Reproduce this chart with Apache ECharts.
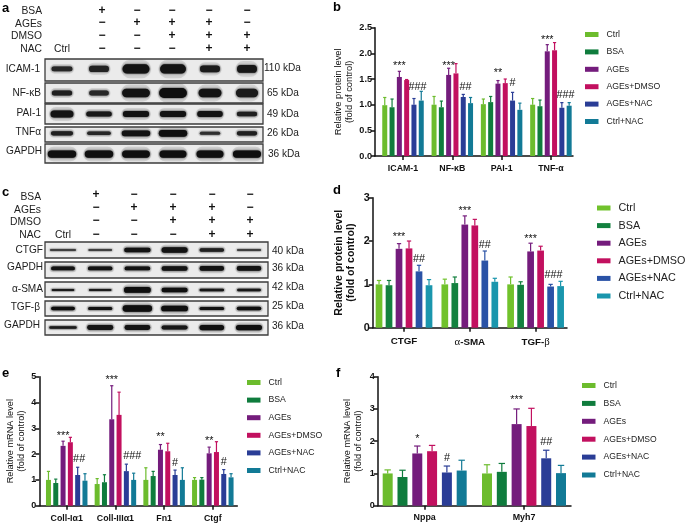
<!DOCTYPE html>
<html><head><meta charset="utf-8">
<style>html,body{margin:0;padding:0;background:#fff}#c{width:685px;height:523px}</style>
<script src="https://cdn.jsdelivr.net/npm/echarts@6/dist/echarts.min.js"></script>
</head><body><div id="c"></div>
<script>
// ---------- data: bar panels ----------
const groups = ['Ctrl','BSA','AGEs','AGEs+DMSO','AGEs+NAC','Ctrl+NAC'];

const catsB = ['ICAM-1','NF-κB','PAI-1','TNF-α'];
const meansB = [[0.99,0.95,1.54,1.48,1.00,1.08],[1.00,0.95,1.58,1.61,1.15,1.03],[1.01,1.05,1.41,1.42,1.08,0.90],[1.00,0.97,2.04,2.06,0.94,0.98]];
const topsB  = [[1.14,1.11,1.65,1.49,1.12,1.26],[1.16,1.07,1.71,1.80,1.20,1.14],[1.11,1.16,1.47,1.50,1.24,1.03],[1.12,1.09,2.17,2.21,1.04,1.04]];
const sigB = [[0,2,1.80,'***'],[0,4.5,1.34,'###'],[1,2,1.80,'***'],[1,4.3,1.34,'##'],[2,2,1.66,'**'],[2,4,1.43,'#'],[3,2,2.30,'***'],[3,4.5,1.19,'###']];

const catsD = ['CTGF','α-SMA','TGF-β'];
const meansD = [[1.00,0.98,1.82,1.83,1.30,0.98],[1.00,1.03,2.38,2.36,1.55,1.06],[1.00,0.99,1.76,1.78,0.95,0.96]];
const topsD  = [[1.09,1.09,1.94,2.00,1.44,1.11],[1.12,1.17,2.58,2.50,1.77,1.14],[1.17,1.06,1.95,1.88,1.00,1.07]];
const sigD = [[0,2,2.14,'***'],[0,4,1.59,'##'],[1,2,2.75,'***'],[1,4,1.90,'##'],[2,2,2.09,'***'],[2,4.3,1.21,'###']];

const catsE = ['Coll-Iα1','Coll-IIIα1','Fn1','Ctgf'];
const meansE = [[1.00,0.88,2.32,2.46,1.19,0.97],[0.84,0.91,3.35,3.52,1.34,1.00],[1.00,1.15,2.17,2.11,1.19,1.00],[1.00,1.01,2.03,2.08,1.23,1.10]];
const topsE  = [[1.33,1.03,2.50,2.65,1.49,1.24],[1.05,1.20,4.65,4.40,1.61,1.26],[1.47,1.33,2.37,2.42,1.38,1.47],[1.09,1.09,2.27,2.48,1.40,1.24]];
const sigE = [[0,2,2.79,'***'],[0,4.2,1.81,'##'],[1,2,4.96,'***'],[1,4.8,1.94,'###'],[2,2,2.73,'**'],[2,4,1.64,'#'],[3,2,2.58,'**'],[3,4,1.68,'#']];

const catsF = ['Nppa','Myh7'];
const meansF = [[1.00,0.89,1.62,1.69,1.03,1.09],[1.00,1.05,2.53,2.47,1.47,1.01]];
const topsF  = [[1.11,1.10,1.85,1.87,1.23,1.41],[1.27,1.31,3.00,3.02,1.72,1.25]];
const sigF = [[0,2,2.14,'*'],[0,4,1.47,'#'],[1,2,3.33,'***'],[1,4,1.96,'##']];

// ---------- data: blots (band width, band thickness, band darkness per lane) ----------
const blotA = [
 {name:'ICAM-1', kda:'110 kDa', mid:.45, w:[.65,.62,.81,.78,.62,.62], t:[.22,.28,.42,.42,.3,.36], d:[.7,.75,.95,.95,.85,.9]},
 {name:'NF-κB',  kda:'65 kDa',  mid:.5,  w:[.63,.61,.83,.83,.7,.68],  t:[.25,.25,.42,.5,.42,.42],  d:[.8,.7,.95,1,.95,.85]},
 {name:'PAI-1',  kda:'49 kDa',  mid:.5,  w:[.7,.77,.79,.79,.77,.63],  t:[.35,.25,.3,.3,.3,.22],d:[.95,.9,.95,.95,.95,.8]},
 {name:'TNFα',   kda:'26 kDa',  mid:.42, w:[.68,.72,.85,.85,.63,.63], t:[.28,.24,.38,.45,.2,.28], d:[.8,.7,.95,1,.6,.8]},
 {name:'GAPDH',  kda:'36 kDa',  mid:.53, w:[.85,.85,.83,.81,.81,.84], t:[.38,.38,.38,.38,.38,.38],d:[1,1,1,1,1,1]}
];
const blotC = [
 {name:'CTGF',  kda:'40 kDa', mid:.5,  w:[.78,.72,.79,.78,.74,.73], t:[.12,.12,.28,.33,.22,.12], d:[.4,.4,.95,.95,.8,.4]},
 {name:'GAPDH', kda:'36 kDa', mid:.4,  w:[.72,.74,.77,.78,.74,.74], t:[.24,.24,.24,.28,.3,.3], d:[.95,.95,.95,.95,.95,.95]},
 {name:'α-SMA', kda:'42 kDa', mid:.53, w:[.69,.69,.8,.78,.74,.72],  t:[.14,.14,.38,.3,.17,.17],  d:[.85,.85,1,1,.9,.9]},
 {name:'TGF-β', kda:'25 kDa', mid:.5,  w:[.72,.73,.87,.8,.74,.74],  t:[.24,.2,.42,.38,.2,.24],   d:[1,.95,1,1,.95,1]},
 {name:'GAPDH', kda:'36 kDa', mid:.5,  w:[.82,.78,.77,.78,.74,.78], t:[.17,.32,.32,.28,.35,.35],   d:[.85,.95,.95,.9,1,1]}
];
const treatRows = ['BSA','AGEs','DMSO','NAC'];
const treatA = [['+','−','−','−','−'],['−','+','+','+','−'],['−','−','+','+','+'],['−','−','−','+','+']];

// ---------- layout ----------
const FONT = '"Liberation Sans", Arial, sans-serif';
const paletteA = ['#6cbc2d','#0f7c3d','#741c7c','#c2105f','#2a3d96','#127a96'];
const paletteD = ['#71c22c','#13813f','#741c7c','#c2105f','#2a52a6','#1a96ad'];
const panels = [
 {cats:catsB,means:meansB,tops:topsB,sig:sigB,pal:paletteA,left:375,right:573,top:27.7,bottom:156,xMin:-.568,xMax:3.448,yMax:2.5,yStep:.5,fix:1,bw:5,pitch:7.3,
  title:'Relative protein level\n(fold of control)',tFont:9.4,tBold:'normal',gap:16,tick:9.1,cat:8.8,catM:8,leg:{left:585,top:30,font:8.7,gap:8.4}},
 {cats:catsD,means:meansD,tops:topsD,sig:sigD,pal:paletteD,left:372.7,right:567,top:197.7,bottom:327.7,xMin:-.476,xMax:2.477,yMax:3,yStep:1,fix:0,bw:6.7,pitch:10,
  title:'Relative protein level\n(fold of control)',tFont:10.6,tBold:'bold',gap:15,tick:10.8,cat:9.8,catM:9,leg:{left:597,top:202.5,font:10.8,gap:6.6},rich:true},
 {cats:catsE,means:meansE,tops:topsE,sig:sigE,pal:paletteA,left:39.3,right:237.3,top:376.7,bottom:505.7,xMin:-.563,xMax:3.503,yMax:5,yStep:1,fix:0,bw:5,pitch:7.3,
  title:'Relative mRNA level\n(fold of control)',tFont:9.2,tBold:'normal',gap:7,tick:9,cat:8.8,catM:8,leg:{left:247,top:378,font:8.7,gap:8.6}},
 {cats:catsF,means:meansF,tops:topsF,sig:sigF,pal:paletteA,left:377.7,right:571,top:376.7,bottom:505.7,xMin:-.473,xMax:1.473,yMax:4,yStep:1,fix:0,bw:10,pitch:14.8,
  title:'Relative mRNA level\n(fold of control)',tFont:9.2,tBold:'normal',gap:14,tick:9,cat:8.9,catM:7,leg:{left:582,top:381,font:8.6,gap:8.9}}
];
const blotLayoutA = {x0:45,x1:263,lane0:62,laneStep:37,rects:[[59,81],[83,103],[104,124],[127,142],[144,163]],
  nameRight:[40,41,41,41,42],nameY:[69,93,113,132,151],kdaX:[264,267,267,267,268],kdaY:[68,93,114,133,154]};
const blotLayoutC = {x0:45,x1:268,lane0:63,laneStep:37.2,rects:[[242,258],[262,278],[282,297],[301,316],[320,335]],
  nameRight:[43,43,43,40,40],nameY:[250,267,289,307,325],kdaX:[272,272,272,272,272],kdaY:[251,268,287,306,326]};
const treatLayoutA = {labelRight:42,labelY:[11.5,23.7,36,48.7],colX:[102,137,172,209,247],rowY:[10.3,22.7,35.3,48.7],ctrlX:62,ctrlY:49};
const treatLayoutC = {labelRight:41,labelY:[197.5,210,222.5,235],colX:[96,134,173,212,250],rowY:[195,207.7,221,234.3],ctrlX:63,ctrlY:235};
const letters = [['a',2,8],['b',333,7],['c',2,192],['d',333,190],['e',2,373],['f',336,373]];
const W=685,H=523;

const grid=[],xAxis=[],yAxis=[],series=[],legend=[],graphic=[];

panels.forEach((p)=>{
  const g=grid.length;
  grid.push({left:p.left,top:p.top,width:p.right-p.left,height:p.bottom-p.top,containLabel:false});
  const ticks=p.cats.map((_,i)=>i);
  xAxis.push({gridIndex:g,type:'value',min:p.xMin,max:p.xMax,splitLine:{show:false},
    axisLine:{show:true,onZero:false,lineStyle:{color:'#111',width:1.5}},
    axisTick:{show:true,customValues:ticks,length:4,lineStyle:{color:'#111',width:1.5}},
    axisLabel:{customValues:ticks,margin:p.catM,fontFamily:FONT,fontSize:p.cat,fontWeight:'bold',color:'#111',
      formatter:v=>{const s=p.cats[v]; return p.rich? s.replace(/[αβ]/,m=>'{g|'+m+'}'):s;},
      rich:{g:{fontFamily:'"Liberation Serif", serif',fontSize:p.cat+1,fontWeight:'normal',color:'#111'}}}});
  yAxis.push({gridIndex:g,type:'value',min:0,max:p.yMax,interval:p.yStep,splitLine:{show:false},
    axisLine:{show:true,onZero:false,lineStyle:{color:'#111',width:1.5}},
    axisTick:{show:true,length:4,lineStyle:{color:'#111',width:1.5}},
    axisLabel:{margin:3,fontFamily:FONT,fontSize:p.tick,fontWeight:'bold',color:'#111',formatter:v=>v.toFixed(p.fix)},
    name:p.title,nameLocation:'middle',nameRotate:90,nameGap:p.gap,
    nameTextStyle:{fontFamily:FONT,fontSize:p.tFont,fontWeight:p.tBold,color:'#111',lineHeight:p.tFont*1.2}});
  groups.forEach((name,k)=>{
    series.push({type:'bar',name,xAxisIndex:g,yAxisIndex:g,barWidth:p.bw,barGap:((p.pitch-p.bw)/p.bw*100)+'%',
      itemStyle:{color:p.pal[k]},silent:true,data:p.means.map((row,c)=>[c,row[k]])});
  });
  const errRows=[];
  p.means.forEach((row,c)=>row.forEach((m,k)=>errRows.push([c,k,m,p.tops[c][k]])));
  series.push({type:'custom',name:'err',xAxisIndex:g,yAxisIndex:g,silent:true,clip:false,data:errRows,
    encode:{x:0,y:2},
    renderItem:(params,api)=>{
      const c=api.value(0),k=api.value(1);
      const a=api.coord([c,api.value(2)]),b=api.coord([c,api.value(3)]);
      const x=a[0]+(k-2.5)*p.pitch,col=p.pal[k],cap=p.bw*0.32;
      const st={stroke:col,lineWidth:1.2,fill:null};
      return {type:'group',children:[
        {type:'line',shape:{x1:x,y1:a[1],x2:x,y2:b[1]},style:st},
        {type:'line',shape:{x1:x-cap,y1:b[1],x2:x+cap,y2:b[1]},style:st}]};
    }});
  series.push({type:'custom',name:'sig',xAxisIndex:g,yAxisIndex:g,silent:true,clip:false,
    data:p.sig.map(s=>[s[0],s[1],s[2]]),encode:{x:0,y:2},
    renderItem:(params,api)=>{
      const pt=api.coord([api.value(0),api.value(2)]);
      const t=p.sig[params.dataIndex][3];
      const star=t[0]==='*';
      return {type:'text',x:pt[0]+(api.value(1)-2.5)*p.pitch,y:pt[1]+(star?2.2:0),
        style:{text:t,fontFamily:FONT,fontSize:10.8,fill:'#111',textAlign:'center',textVerticalAlign:'middle'}};
    }});
  legend.push({orient:'vertical',left:p.leg.left,top:p.leg.top,itemWidth:13.5,itemHeight:5,itemGap:p.leg.gap,padding:0,icon:'rect',
    selectedMode:false,textStyle:{fontFamily:FONT,fontSize:p.leg.font,color:'#222',padding:[0,0,0,3]},
    data:groups.map((n,k)=>({name:n,itemStyle:{color:p.pal[k]}}))});
});

function addBlots(list,L){
  list.forEach((b,i)=>{
    const g=grid.length,[y0,y1]=L.rects[i];
    grid.push({left:L.x0,top:y0,width:L.x1-L.x0,height:y1-y0,show:true,backgroundColor:'#ebebeb',borderColor:'#3c3c3c',borderWidth:1.3});
    xAxis.push({gridIndex:g,type:'value',show:false,min:(L.x0-L.lane0)/L.laneStep,max:(L.x1-L.lane0)/L.laneStep});
    yAxis.push({gridIndex:g,type:'value',show:false,inverse:true,min:0,max:1});
    series.push({type:'custom',name:b.name+' bands',xAxisIndex:g,yAxisIndex:g,silent:true,clip:true,
      data:b.w.map((w,k)=>[k,b.mid,w,b.t[k],b.d[k]]),encode:{x:0,y:1},
      renderItem:(params,api)=>{
        const c=api.coord([api.value(0),api.value(1)]);
        const w=api.size([api.value(2),0])[0],h=api.size([0,api.value(3)])[1],d=api.value(4);
        const shade=Math.round(95-80*d),col='rgb('+shade+','+shade+','+shade+')';
        return {type:'group',children:[
          {type:'rect',shape:{x:c[0]-w/2,y:c[1]-h,width:w,height:h*2,r:h},
            style:{fill:'rgba(70,70,70,'+(0.16*d)+')',shadowBlur:3,shadowColor:'rgba(70,70,70,'+(0.2*d)+')'}},
          {type:'rect',shape:{x:c[0]-w/2+1.5,y:c[1]-h/2,width:w-3,height:h,r:h/2},
            style:{fill:col,shadowBlur:2,shadowColor:col}}]};
      }});
    graphic.push({type:'text',x:L.nameRight[i],y:L.nameY[i],style:{text:b.name,fontFamily:FONT,fontSize:10.1,fill:'#222',textAlign:'right',textVerticalAlign:'middle'}});
    graphic.push({type:'text',x:L.kdaX[i],y:L.kdaY[i],style:{text:b.kda,fontFamily:FONT,fontSize:10.1,fill:'#222',textAlign:'left',textVerticalAlign:'middle'}});
  });
}
addBlots(blotA,blotLayoutA);
addBlots(blotC,blotLayoutC);

function addTreat(L){
  treatRows.forEach((r,i)=>{
    graphic.push({type:'text',x:L.labelRight,y:L.labelY[i],style:{text:r,fontFamily:FONT,fontSize:10.3,fill:'#222',textAlign:'right',textVerticalAlign:'middle'}});
    treatA[i].forEach((s,j)=>{
      graphic.push({type:'text',x:L.colX[j],y:L.rowY[i],style:{text:s,fontFamily:FONT,fontSize:12,fontWeight:'bold',fill:'#111',textAlign:'center',textVerticalAlign:'middle'}});
    });
  });
  graphic.push({type:'text',x:L.ctrlX,y:L.ctrlY,style:{text:'Ctrl',fontFamily:FONT,fontSize:10.3,fill:'#222',textAlign:'center',textVerticalAlign:'middle'}});
}
addTreat(treatLayoutA);
addTreat(treatLayoutC);
letters.forEach(([t,x,y])=>graphic.push({type:'text',x,y,style:{text:t,fontFamily:FONT,fontSize:13,fontWeight:'bold',fill:'#000',textVerticalAlign:'middle'}}));

const chart=echarts.init(document.getElementById('c'),null,{renderer:'canvas',width:W,height:H});
chart.setOption({animation:false,backgroundColor:'#fff',tooltip:{show:false},grid,xAxis,yAxis,series,legend,graphic});
</script></body></html>
